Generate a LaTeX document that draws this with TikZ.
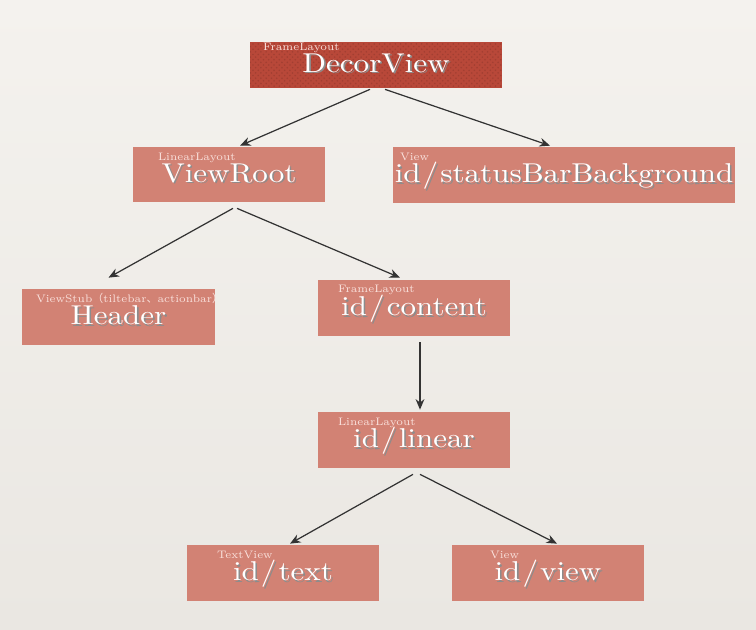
\documentclass[tikz,border=0pt]{standalone}
\usepackage{fontspec}
\newfontfamily\cjk{Noto Sans CJK SC}
\newfontfamily\boxfont{lmroman10-regular}[Extension=.otf,FakeStretch=1.14]
\usepackage{xcolor}
\usepackage{tikz}
\usetikzlibrary{arrows.meta,calc,patterns}

\definecolor{paper}{RGB}{244,242,238}
\definecolor{paperdark}{RGB}{234,231,226}
\definecolor{decorred}{RGB}{184,72,57}
\definecolor{salmon}{RGB}{210,130,116}
\definecolor{tagpink}{RGB}{250,225,220}

\newcommand{\shd}[1]{\makebox[0pt][l]{\hspace{0.9pt}\raisebox{-0.9pt}{\textcolor{black!45}{#1}}}#1}
\newcommand{\idsl}{\kern1.2pt/\kern1.2pt}

\begin{document}
\begin{tikzpicture}[
    x=0.02cm,y=-0.02cm,
    viewbox/.style={fill=salmon,draw=none,minimum width=3.84cm,minimum height=1.12cm,
        inner sep=0pt,text=white,font=\boxfont\fontsize{15.5}{16}\selectfont,
        text height=0.88em,text depth=0pt},
    rootbox/.style={viewbox,fill=decorred,minimum width=5.04cm,minimum height=0.92cm,
        text height=0.84em,
        postaction={pattern=crosshatch dots,pattern color=decorred!88!black}},
    tag/.style={anchor=north west,inner sep=0pt,text=tagpink,font=\fontsize{6.2}{7}\selectfont},
    link/.style={draw=black!80,line width=0.7pt,-{Stealth[length=6pt,width=5pt]}},
]
% Background
\shade[top color=paper,bottom color=paperdark] (0,0) rectangle (756,629);
\useasboundingbox (0,0) rectangle (756,629);

% Boxes
\node[rootbox] (decor) at (376,65) {\shd{DecorView}};
\node[viewbox,minimum height=1.10cm] (viewroot) at (229,174.5) {\shd{ViewRoot}};
\node[viewbox,minimum width=6.84cm] (statusbar) at (564,175) {\shd{id\idsl statusBarBackground}};
\node[viewbox,minimum width=3.86cm] (header) at (118.5,317) {\shd{Header}};
\node[viewbox] (content) at (414,308) {\shd{id\idsl content}};
\node[viewbox] (linear) at (414,440) {\shd{id\idsl linear}};
\node[viewbox] (text) at (283,573) {\shd{id\idsl text}};
\node[viewbox] (view) at (548,573) {\shd{id\idsl view}};

% Type tags
\node[tag] (decortag) at ($(decor.north west)+(13,1)$) {FrameLayout};
\node[tag] (viewroottag) at ($(viewroot.north west)+(25,6)$) {LinearLayout};
\node[tag] (statusbartag) at ($(statusbar.north west)+(7,6)$) {View};
\node[tag] (headertag) at ($(header.north west)+(14,4)$) {ViewStub{\cjk（}tiltebar{\cjk 、}actionbar{\cjk ）}};
\node[tag] (contenttag) at ($(content.north west)+(20,5)$) {FrameLayout};
\node[tag] (lineartag) at ($(linear.north west)+(20,6)$) {LinearLayout};
\node[tag] (texttag) at ($(text.north west)+(30,6)$) {TextView};
\node[tag] (viewtag) at ($(view.north west)+(38,6)$) {View};

% Arrows
\draw[link] ($(decor.south)+(-6,1)$) -- ($(viewroot.north)+(11,-1)$);
\draw[link] ($(decor.south)+(9,1)$) -- ($(statusbar.north)+(-14,-1)$);
\draw[link] ($(viewroot.south)+(4,6)$) -- ($(header.north)+(-10,-11)$);
\draw[link] ($(viewroot.south)+(8,6)$) -- ($(content.north)+(-14,-2)$);
\draw[link] ($(content.south)+(6,6)$) -- ($(linear.north)+(6,-2)$);
\draw[link] ($(linear.south)+(-1,6)$) -- ($(text.north)+(7,-1)$);
\draw[link] ($(linear.south)+(6,6)$) -- ($(view.north)+(9,-1)$);
\end{tikzpicture}
\end{document}
